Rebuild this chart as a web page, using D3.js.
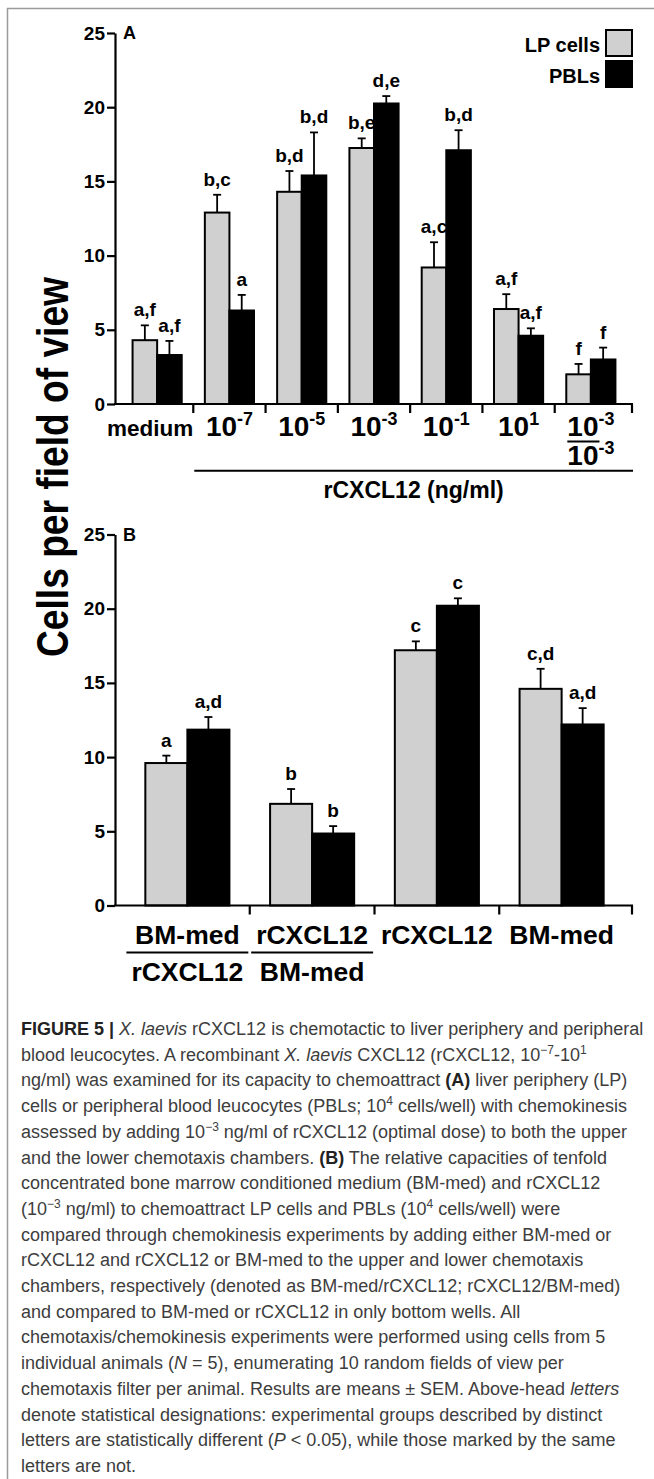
<!DOCTYPE html>
<html>
<head>
<meta charset="utf-8">
<script src="https://cdn.jsdelivr.net/npm/d3@7"></script>
<style>
  body { margin: 0; background: #fff; }
  svg { display: block; }
</style>
</head>
<body>
<div id="chart-area"></div>
<script>
// data
var seriesNames = ["LP cells", "PBLs"];
var yTicks = [0, 5, 10, 15, 20, 25];

var catsA = ["medium", "10^-7", "10^-5", "10^-3", "10^-1", "10^1", "10^-3/10^-3"];
var lpA = [4.3, 12.9, 14.3, 17.25, 9.2, 6.4, 2.0];
var lpErrA = [1.0, 1.2, 1.4, 0.65, 1.7, 1.0, 0.7];
var pblA = [3.3, 6.3, 15.4, 20.25, 17.1, 4.6, 3.0];
var pblErrA = [0.95, 1.05, 2.9, 0.5, 1.35, 0.5, 0.8];
var lpLettersA = ["a,f", "b,c", "b,d", "b,e", "a,c", "a,f", "f"];
var pblLettersA = ["a,f", "a", "b,d", "d,e", "b,d", "a,f", "f"];

var catsB = ["BM-med/rCXCL12", "rCXCL12/BM-med", "rCXCL12", "BM-med"];
var lpB = [9.6, 6.85, 17.2, 14.6];
var lpErrB = [0.5, 1.0, 0.6, 1.35];
var pblB = [11.85, 4.85, 20.2, 12.2];
var pblErrB = [0.85, 0.5, 0.5, 1.1];
var lpLettersB = ["a", "b", "c", "c,d"];
var pblLettersB = ["a,d", "b", "c", "a,d"];

var captionLines = [
  [["FIGURE 5 | ", "b"], ["X. laevis", "i"], [" rCXCL12 is chemotactic to liver periphery and peripheral"]],
  [["blood leucocytes. A recombinant "], ["X. laevis", "i"], [" CXCL12 (rCXCL12, 10"], ["\u22127", "sup"], ["-10"], ["1", "sup"]],
  [["ng/ml) was examined for its capacity to chemoattract "], ["(A)", "b"], [" liver periphery (LP)"]],
  [["cells or peripheral blood leucocytes (PBLs; 10"], ["4", "sup"], [" cells/well) with chemokinesis"]],
  [["assessed by adding 10"], ["\u22123", "sup"], [" ng/ml of rCXCL12 (optimal dose) to both the upper"]],
  [["and the lower chemotaxis chambers. "], ["(B)", "b"], [" The relative capacities of tenfold"]],
  [["concentrated bone marrow conditioned medium (BM-med) and rCXCL12"]],
  [["(10"], ["\u22123", "sup"], [" ng/ml) to chemoattract LP cells and PBLs (10"], ["4", "sup"], [" cells/well) were"]],
  [["compared through chemokinesis experiments by adding either BM-med or"]],
  [["rCXCL12 and rCXCL12 or BM-med to the upper and lower chemotaxis"]],
  [["chambers, respectively (denoted as BM-med/rCXCL12; rCXCL12/BM-med)"]],
  [["and compared to BM-med or rCXCL12 in only bottom wells. All"]],
  [["chemotaxis/chemokinesis experiments were performed using cells from 5"]],
  [["individual animals ("], ["N", "i"], [" = 5), enumerating 10 random fields of view per"]],
  [["chemotaxis filter per animal. Results are means \u00b1 SEM. Above-head "], ["letters", "i"]],
  [["denote statistical designations: experimental groups described by distinct"]],
  [["letters are statistically different ("], ["P", "i"], [" < 0.05), while those marked by the same"]],
  [["letters are not."]]
];

var width = 654;
var height = 1479;
var font = "'Liberation Sans', Arial, Helvetica, sans-serif";
var colors = { "LP cells": "#d0d0d0", "PBLs": "#000" };

var svg = d3.select("#chart-area")
  .append("svg")
  .attr("width", width)
  .attr("height", height);

// figure frame (left + top)
svg.append("path")
  .attr("d", "M7.5," + height + "V8.5H" + width)
  .attr("fill", "none")
  .attr("stroke", "#9a9a9a")
  .attr("stroke-width", 1.5);

// "10^-7" style label with a superscript
function supText(sel, str, size) {
  var parts = str.split("^");
  sel.append("tspan").attr("class", "base").attr("font-size", size).text(parts[0]);
  if (parts.length > 1) {
    sel.append("tspan")
      .attr("font-size", size * 0.64)
      .attr("dy", -size * 0.4)
      .text(parts[1]);
  }
}

function drawPanel(p) {
  var y = d3.scaleLinear().domain([0, 25]).range([p.bottom, p.top]);
  var x0 = d3.scaleBand()
    .domain(p.cats)
    .range(p.xRange)
    .paddingInner(p.pad)
    .paddingOuter(p.pad / 2);
  var x1 = d3.scaleBand().domain(seriesNames).range([0, x0.bandwidth()]);

  var g = svg.append("g");

  // bars
  var rows = [];
  p.cats.forEach(function(c, i) {
    rows.push({ cat: c, s: "LP cells", v: p.lp[i], e: p.lpErr[i], t: p.lpLet[i] });
    rows.push({ cat: c, s: "PBLs", v: p.pbl[i], e: p.pblErr[i], t: p.pblLet[i] });
  });

  g.selectAll("rect.bar").data(rows).enter().append("rect")
    .attr("class", "bar")
    .attr("x", d => x0(d.cat) + x1(d.s))
    .attr("y", d => y(d.v))
    .attr("width", x1.bandwidth())
    .attr("height", d => y(0) - y(d.v))
    .attr("fill", d => colors[d.s])
    .attr("stroke", "#000")
    .attr("stroke-width", 2);

  var cx = d => x0(d.cat) + x1(d.s) + x1.bandwidth() / 2;

  // error bars (upper only)
  g.selectAll("line.err").data(rows).enter().append("line")
    .attr("class", "err")
    .attr("x1", cx).attr("x2", cx)
    .attr("y1", d => y(d.v)).attr("y2", d => y(d.v + d.e))
    .attr("stroke", "#000")
    .attr("stroke-width", 1.8);
  g.selectAll("line.cap").data(rows).enter().append("line")
    .attr("class", "cap")
    .attr("x1", d => cx(d) - 4).attr("x2", d => cx(d) + 4)
    .attr("y1", d => y(d.v + d.e)).attr("y2", d => y(d.v + d.e))
    .attr("stroke", "#000")
    .attr("stroke-width", 1.8);

  // significance letters
  g.selectAll("text.sig").data(rows).enter().append("text")
    .attr("class", "sig")
    .attr("x", cx)
    .attr("y", d => y(d.v + d.e) - 9)
    .attr("text-anchor", "middle")
    .attr("font-family", font)
    .attr("font-weight", "bold")
    .attr("font-size", 19)
    .text(d => d.t);

  // y axis
  var yAxisG = g.append("g")
    .attr("transform", "translate(115,0)")
    .call(d3.axisLeft(y).tickValues(yTicks).tickSize(8).tickPadding(2).tickSizeOuter(0))
    .attr("font-family", font)
    .attr("font-weight", "bold")
    .attr("font-size", 19);
  yAxisG.selectAll(".domain, .tick line").attr("stroke", "#000").attr("stroke-width", 2.2);
  yAxisG.selectAll("text").attr("fill", "#000");

  // x axis line + ticks between groups
  g.append("line")
    .attr("x1", 114).attr("x2", p.axisEnd + 1)
    .attr("y1", y(0)).attr("y2", y(0))
    .attr("stroke", "#000").attr("stroke-width", 2.2);
  var tickX = p.cats.slice(1).map((c, i) => p.xRange[0] + (i + 1) * x0.step());
  tickX.push(p.axisEnd);
  g.selectAll("line.xt").data(tickX).enter().append("line")
    .attr("class", "xt")
    .attr("x1", d => d).attr("x2", d => d)
    .attr("y1", y(0)).attr("y2", y(0) + 9)
    .attr("stroke", "#000").attr("stroke-width", 2.2);

  // category labels
  p.cats.forEach(function(c, i) {
    var mid = x0(c) + x0.bandwidth() / 2 + (p.labelDx[i] || 0);
    var rowsTxt = c.split("/");
    var texts = rowsTxt.map(function(r, k) {
      var t = g.append("text")
        .attr("x", mid)
        .attr("y", k === 0 ? p.labelY : p.labelY2)
        .attr("text-anchor", "middle")
        .attr("font-family", font)
        .attr("font-weight", "bold");
      supText(t, r, r.indexOf("^") >= 0 ? p.numSize : p.wordSize);
      return t;
    });
    if (rowsTxt.length > 1) {
      var x1l, x2l;
      if (p.fracLine === "base") {
        var tw = texts[0].node().getComputedTextLength();
        var bw = texts[0].select(".base").node().getComputedTextLength();
        x1l = mid - tw / 2;
        x2l = x1l + bw + 1;
      } else {
        var mw = d3.max(texts, t => t.node().getComputedTextLength());
        x1l = mid - mw / 2 - 5;
        x2l = mid + mw / 2 + 5;
      }
      g.append("line")
        .attr("x1", x1l).attr("x2", x2l)
        .attr("y1", p.fracY).attr("y2", p.fracY)
        .attr("stroke", "#000").attr("stroke-width", 2);
    }
  });

  // panel letter
  g.append("text")
    .attr("x", 123).attr("y", p.top + 6)
    .attr("font-family", font).attr("font-weight", "bold").attr("font-size", 18)
    .text(p.name);

  return { x0: x0, y: y, g: g, tickX: tickX };
}

var A = drawPanel({
  name: "A", cats: catsA, lp: lpA, lpErr: lpErrA, pbl: pblA, pblErr: pblErrA,
  lpLet: lpLettersA, pblLet: pblLettersA,
  top: 33, bottom: 404, xRange: [121, 627], pad: 0.32, axisEnd: 632,
  labelY: 436, labelY2: 465, fracY: 441.5, fracLine: "base",
  numSize: 28, wordSize: 22.5, labelDx: [-7]
});

var B = drawPanel({
  name: "B", cats: catsB, lp: lpB, lpErr: lpErrB, pbl: pblB, pblErr: pblErrB,
  lpLet: lpLettersB, pblLet: pblLettersB,
  top: 534.5, bottom: 905.5, xRange: [125, 624], pad: 0.326, axisEnd: 632,
  labelY: 943.5, labelY2: 980.5, fracY: 952.5, fracLine: "full",
  numSize: 26.5, wordSize: 26.5, labelDx: []
});

// rCXCL12 bracket under panel A
var brX1 = A.tickX[0] + 1, brX2 = 633;
A.g.append("line")
  .attr("x1", brX1).attr("x2", brX2)
  .attr("y1", 470.7).attr("y2", 470.7)
  .attr("stroke", "#000").attr("stroke-width", 2);
A.g.append("text")
  .attr("x", (brX1 + brX2) / 2).attr("y", 498)
  .attr("text-anchor", "middle")
  .attr("font-family", font).attr("font-weight", "bold").attr("font-size", 23)
  .text("rCXCL12 (ng/ml)");

// legend
var leg = A.g.selectAll("g.leg").data(seriesNames).enter().append("g")
  .attr("class", "leg")
  .attr("transform", (d, i) => "translate(0," + (30 + i * 31) + ")");
leg.append("rect")
  .attr("x", 606).attr("y", 0).attr("width", 26).attr("height", 26)
  .attr("fill", d => colors[d]).attr("stroke", "#000").attr("stroke-width", 2);
leg.append("text")
  .attr("x", 600).attr("y", 21.5)
  .attr("text-anchor", "end")
  .attr("font-family", font).attr("font-weight", "bold").attr("font-size", 20)
  .text(d => d);

// shared y title
svg.append("text")
  .attr("transform", "translate(68,467) rotate(-90)")
  .attr("text-anchor", "middle")
  .attr("font-family", font).attr("font-weight", "bold").attr("font-size", 45)
  .attr("textLength", 380).attr("lengthAdjust", "spacingAndGlyphs")
  .text("Cells per field of view");

// caption
var cap = svg.append("g")
  .attr("font-family", font)
  .attr("font-size", 18)
  .attr("fill", "#3d3d3d");
captionLines.forEach(function(line, i) {
  var t = cap.append("text").attr("x", 21).attr("y", 1035 + i * 25.7);
  var shift = 0;
  line.forEach(function(seg) {
    var st = seg[1] || "";
    var ts = t.append("tspan").text(seg[0]);
    var want = st === "sup" ? -7 : 0;
    if (want !== shift) { ts.attr("dy", want - shift); shift = want; }
    if (st === "sup") ts.attr("font-size", 12);
    if (st === "b") ts.attr("font-weight", "bold").attr("fill", "#222");
    if (st === "i") ts.attr("font-style", "italic");
  });
});
</script>
</body>
</html>
